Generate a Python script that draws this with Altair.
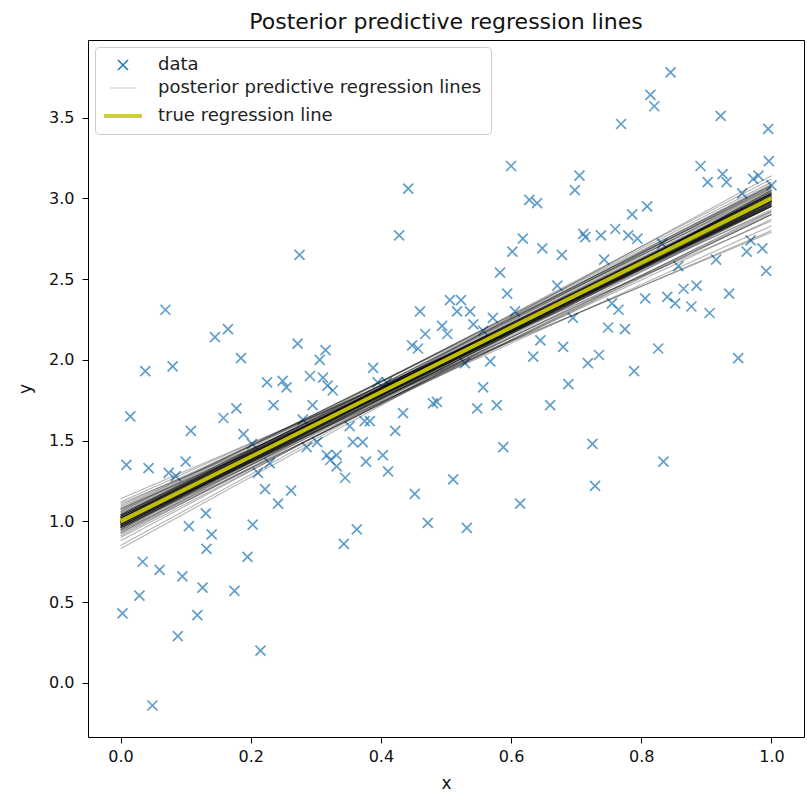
import altair as alt
import pandas as pd

# ---- data ----
x_data = [0.003, 0.009, 0.015, 0.029, 0.034, 0.038, 0.043, 0.049, 0.060, 0.069,
          0.080, 0.074, 0.085, 0.088, 0.095, 0.100, 0.105, 0.108, 0.118, 0.126,
          0.131, 0.132, 0.140, 0.145, 0.158, 0.165, 0.175, 0.178, 0.185, 0.189,
          0.195, 0.202, 0.203, 0.211, 0.215, 0.222, 0.225, 0.229, 0.235, 0.242,
          0.249, 0.255, 0.262, 0.272, 0.275, 0.280, 0.286, 0.291, 0.295, 0.302,
          0.306, 0.311, 0.315, 0.317, 0.318, 0.322, 0.326, 0.332, 0.332, 0.345,
          0.343, 0.363, 0.352, 0.357, 0.372, 0.375, 0.383, 0.377, 0.388, 0.395,
          0.409, 0.403, 0.411, 0.422, 0.428, 0.434, 0.442, 0.448, 0.457, 0.452,
          0.460, 0.468, 0.472, 0.480, 0.486, 0.494, 0.502, 0.506, 0.511, 0.517,
          0.523, 0.529, 0.532, 0.537, 0.542, 0.548, 0.557, 0.557, 0.568, 0.572,
          0.578, 0.583, 0.588, 0.594, 0.600, 0.602, 0.606, 0.614, 0.618, 0.628,
          0.634, 0.640, 0.645, 0.648, 0.660, 0.671, 0.678, 0.680, 0.688, 0.695,
          0.698, 0.705, 0.711, 0.714, 0.718, 0.725, 0.729, 0.735, 0.738, 0.743,
          0.749, 0.755, 0.760, 0.765, 0.769, 0.775, 0.780, 0.786, 0.789, 0.794,
          0.806, 0.809, 0.814, 0.820, 0.826, 0.832, 0.834, 0.840, 0.845, 0.852,
          0.857, 0.865, 0.877, 0.885, 0.891, 0.902, 0.905, 0.915, 0.922, 0.925,
          0.931, 0.935, 0.949, 0.955, 0.962, 0.968, 0.972, 0.980, 0.986, 0.992,
          0.995, 0.996, 1.000]
y_data = [0.43, 1.35, 1.65, 0.54, 0.75, 1.93, 1.33, -0.14, 0.70, 2.31,
          1.96, 1.30, 1.28, 0.29, 0.66, 1.37, 0.97, 1.56, 0.42, 0.59,
          1.05, 0.83, 0.92, 2.14, 1.64, 2.19, 0.57, 1.70, 2.01, 1.54,
          0.78, 1.48, 0.98, 1.30, 0.20, 1.20, 1.86, 1.36, 1.72, 1.11,
          1.87, 1.83, 1.19, 2.10, 2.65, 1.63, 1.46, 1.90, 1.72, 1.49,
          2.00, 1.89, 2.06, 1.41, 1.84, 1.38, 1.81, 1.41, 1.34, 1.27,
          0.86, 0.95, 1.59, 1.49, 1.49, 1.62, 1.62, 1.37, 1.95, 1.86,
          1.86, 1.41, 1.31, 1.56, 2.77, 1.67, 3.06, 2.09, 2.07, 1.17,
          2.30, 2.16, 0.99, 1.73, 1.74, 2.21, 2.16, 2.37, 1.26, 2.30,
          2.37, 1.98, 0.96, 2.30, 2.22, 1.70, 2.18, 1.83, 1.99, 2.26,
          1.72, 2.54, 1.46, 2.41, 3.20, 2.67, 2.30, 1.11, 2.75, 2.99,
          2.02, 2.97, 2.12, 2.69, 1.72, 2.46, 2.65, 2.08, 1.85, 2.26,
          3.05, 3.14, 2.78, 2.76, 1.98, 1.48, 1.22, 2.03, 2.77, 2.62,
          2.20, 2.35, 2.81, 2.31, 3.46, 2.19, 2.77, 2.90, 1.93, 2.75,
          2.38, 2.95, 3.64, 3.57, 2.07, 2.72, 1.37, 2.39, 3.78, 2.35,
          2.58, 2.44, 2.33, 2.46, 3.20, 3.10, 2.29, 2.62, 3.51, 3.15,
          3.10, 2.41, 2.01, 3.03, 2.67, 2.74, 3.12, 3.14, 2.69, 2.55,
          3.43, 3.23, 3.08]

intercepts = [1.00, 0.97, 1.03, 0.95, 1.05, 0.99, 1.01, 0.93, 1.07, 0.98,
              1.02, 0.96, 1.04, 0.94, 1.06, 1.00, 0.91, 1.09, 0.99, 1.01,
              0.97, 1.03, 0.88, 1.12, 1.00, 0.95, 1.05, 0.98, 1.02, 0.92,
              1.08, 0.96, 1.04, 0.85, 1.14, 1.00, 0.99, 1.01, 0.94, 1.06,
              0.97, 1.03, 0.90, 1.10, 0.98, 1.02, 1.00, 0.96, 1.04, 0.83,
              1.11, 1.08, 1.01, 0.95, 1.02, 0.99, 1.07, 0.93, 1.00, 0.97,
              0.98, 1.02, 1.00, 0.97, 1.03, 0.99, 1.01, 0.96, 1.04, 1.00,
              0.98, 1.02, 0.99, 1.01, 0.97, 1.03, 1.00, 0.98, 1.02, 0.96,
              1.04, 0.99, 1.01, 1.00, 0.97, 1.03, 0.98, 1.02, 1.00, 0.99]
slopes = [2.00, 2.06, 1.93, 2.02, 1.96, 1.97, 2.03, 2.09, 1.88, 2.01,
          1.99, 2.00, 2.01, 2.04, 1.92, 1.95, 2.12, 1.87, 2.04, 1.94,
          1.98, 2.04, 2.16, 1.80, 2.07, 2.08, 1.90, 1.93, 2.06, 2.03,
          1.96, 2.07, 1.95, 2.20, 1.72, 1.90, 2.10, 1.99, 1.96, 2.02,
          2.02, 1.98, 2.08, 1.85, 2.08, 1.91, 2.03, 1.94, 2.06, 2.22,
          1.68, 1.72, 1.82, 2.19, 2.10, 1.88, 1.99, 1.99, 1.98, 2.11,
          2.01, 1.97, 1.99, 2.03, 1.96, 2.02, 1.98, 2.04, 1.95, 2.00,
          1.99, 2.00, 2.03, 1.96, 2.01, 1.99, 1.97, 2.04, 1.94, 2.02,
          1.97, 1.99, 2.02, 2.01, 2.00, 1.95, 2.02, 2.01, 1.96, 2.03]

true_x = [0.0, 1.0]
true_y = [1.0, 3.0]

series_names = ["data", "posterior predictive regression lines", "true regression line"]
series_colors = ["#1f77b4", "#dadada", "#bfbf00"]
X_PATH = "M-1,-1L1,1M-1,1L1,-1"
BAR_PATH = "M-1,-0.055L1,-0.055L1,0.055L-1,0.055Z"

points_df = pd.DataFrame({"x": x_data, "y": y_data})
points_df["series"] = "data"
lines_df = pd.DataFrame({"a": intercepts, "b": slopes})
lines_df["x0"] = 0.0
lines_df["x1"] = 1.0
lines_df["y0"] = lines_df["a"]
lines_df["y1"] = lines_df["a"] + lines_df["b"]
true_df = pd.DataFrame({"x": true_x, "y": true_y})

FONT = "DejaVu Sans"
xscale = alt.Scale(domain=[-0.05, 1.05], nice=False, zero=False)
yscale = alt.Scale(domain=[-0.335, 3.98], nice=False, zero=False)
xaxis = alt.Axis(values=[0.0, 0.2, 0.4, 0.6, 0.8, 1.0], format=".1f", title="x",
                 grid=False, domain=False, tickColor="black", tickSize=6,
                 labelFontSize=16, labelColor="#111111", labelFont=FONT,
                 titleFont=FONT, titleFontSize=17, titleFontWeight="normal",
                 titleColor="#111111", titlePadding=11, labelPadding=5)
yaxis = alt.Axis(values=[0.0, 0.5, 1.0, 1.5, 2.0, 2.5, 3.0, 3.5], format=".1f", title="y",
                 grid=False, domain=False, tickColor="black", tickSize=6,
                 labelFontSize=16, labelColor="#111111", labelFont=FONT,
                 titleFont=FONT, titleFontSize=17, titleFontWeight="normal",
                 titleColor="#111111", titlePadding=14, labelPadding=8)

legend = alt.Legend(
    title=None, orient="top-left", offset=7, fillColor="white",
    strokeColor="#cccccc", cornerRadius=4, padding=9,
    labelFont=FONT, labelFontSize=18, labelColor="#222222", labelLimit=600,
    labelOffset=16, rowPadding=-1, symbolOpacity=1,
)

points = alt.Chart(points_df).mark_point(filled=False, strokeWidth=1.7).encode(
    x=alt.X("x:Q", scale=xscale, axis=xaxis),
    y=alt.Y("y:Q", scale=yscale, axis=yaxis),
    color=alt.Color("series:N", scale=alt.Scale(domain=series_names, range=series_colors), legend=legend),
    shape=alt.Shape("series:N", scale=alt.Scale(domain=series_names, range=[X_PATH, "stroke", BAR_PATH]), legend=legend),
    size=alt.Size("series:N", scale=alt.Scale(domain=series_names, range=[100, 1300, 1300]), legend=legend),
)

rules = alt.Chart(lines_df).mark_rule(color="black", opacity=0.3, strokeWidth=1.1).encode(
    x=alt.X("x0:Q", scale=xscale, axis=xaxis),
    x2="x1:Q",
    y=alt.Y("y0:Q", scale=yscale, axis=yaxis),
    y2="y1:Q",
)

true_line = alt.Chart(true_df).mark_line(color="#bfbf00", strokeWidth=4).encode(
    x=alt.X("x:Q", scale=xscale, axis=xaxis),
    y=alt.Y("y:Q", scale=yscale, axis=yaxis),
)

chart = alt.layer(points, rules, true_line).properties(
    width=716, height=697,
    title=alt.TitleParams("Posterior predictive regression lines", font=FONT, fontSize=22,
                          fontWeight="normal", color="#111111", offset=6),
    autosize=alt.AutoSizeParams(type="none"),
    padding={"left": 88, "top": 40, "right": 3, "bottom": 57},
    background="white",
).configure_view(stroke="black", strokeWidth=1, fill="white")

chart.save("out.html", embed_options={"renderer": "svg", "actions": False})
